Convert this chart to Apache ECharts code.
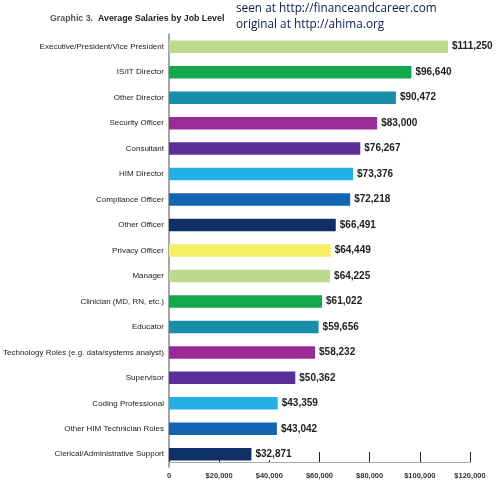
<!DOCTYPE html>
<html>
<head>
<meta charset="utf-8">
<script src="https://cdn.jsdelivr.net/npm/echarts@6/dist/echarts.min.js"></script>
<style>
html,body{margin:0;padding:0;background:#fff;}
#salaryChart{width:500px;height:494px;}
</style>
</head>
<body>
<div id="salaryChart"></div>
<script>
var jobLevels = ['Executive/President/Vice President','IS/IT Director','Other Director','Security Officer',
	'Consultant','HIM Director','Compliance Officer','Other Officer','Privacy Officer','Manager',
	'Clinician (MD, RN, etc.)','Educator','Technology Roles (e.g. data/systems analyst)','Supervisor',
	'Coding Professional','Other HIM Technician Roles','Clerical/Administrative Support'];
var salaries = [111250,96640,90472,83000,76267,73376,72218,66491,64449,64225,61022,59656,58232,50362,43359,43042,32871];
var barColors = ['#bcd98c','#12a84e','#1a8ea8','#9a2c98','#5a2f98','#22b0e6','#1366b2','#0e3066','#f4f062',
	'#bcd98c','#12a84e','#1a8ea8','#9a2c98','#5a2f98','#22b0e6','#1366b2','#0e3066'];
var xTicks = ['0','$20,000','$40,000','$60,000','$80,000','$100,000','$120,000'];

function money(v){
	return '$' + String(v).replace(/\B(?=(\d{3})+(?!\d))/g, ',');
}

var chart = echarts.init(document.getElementById('salaryChart'));
var option = {
	animation: false,
	title: [
		{
			left: 50, top: 10, padding: 0,
			text: '{a|Graphic 3.} {b|Average Salaries by Job Level}',
			textStyle: {
				rich: {
					a: {fontFamily: 'Liberation Sans', fontSize: 8.8, color: '#555'},
					b: {fontFamily: 'Liberation Sans', fontSize: 8.8, fontWeight: 'bold', color: '#222'}
				}
			}
		},
		{
			left: 236, top: 1, padding: 0,
			text: 'seen at http://financeandcareer.com\noriginal at http://ahima.org',
			textStyle: {fontFamily: 'Open Sans', fontSize: 11.8, fontWeight: 'normal', color: '#0b1d4a', lineHeight: 16}
		}
	],
	grid: {left: 168, right: 30, top: 34, bottom: 27},
	xAxis: {
		type: 'value', min: 0, max: 120000, interval: 20000,
		offset: -5,
		axisLine: {show: true, lineStyle: {color: '#aaa', width: 1}},
		axisTick: {show: true, inside: true, length: 10, lineStyle: {color: '#222', width: 1}},
		splitLine: {show: false},
		axisLabel: {
			margin: 10,
			fontFamily: 'Liberation Sans', fontSize: 7.5, fontWeight: 'bold', color: '#333',
			formatter: function(v){ return xTicks[v / 20000]; }
		}
	},
	yAxis: {
		type: 'category', data: jobLevels, inverse: true,
		axisLine: {show: true, lineStyle: {color: '#888', width: 1.5}},
		axisTick: {show: false},
		axisLabel: {margin: 5, fontFamily: 'Liberation Sans', fontSize: 8, color: '#1a1a1a'}
	},
	series: [{
		type: 'bar', data: salaries, barWidth: 12.5, z: 3,
		itemStyle: {
			color: function(p){ return barColors[p.dataIndex]; }
		},
		label: {
			show: true, position: 'right', distance: 3,
			backgroundColor: '#fff', padding: [1, 1],
			fontFamily: 'Liberation Sans', fontSize: 10, fontWeight: 'bold', color: '#222',
			formatter: function(p){ return money(p.value); }
		}
	}]
};
chart.setOption(option);
</script>
</body>
</html>
